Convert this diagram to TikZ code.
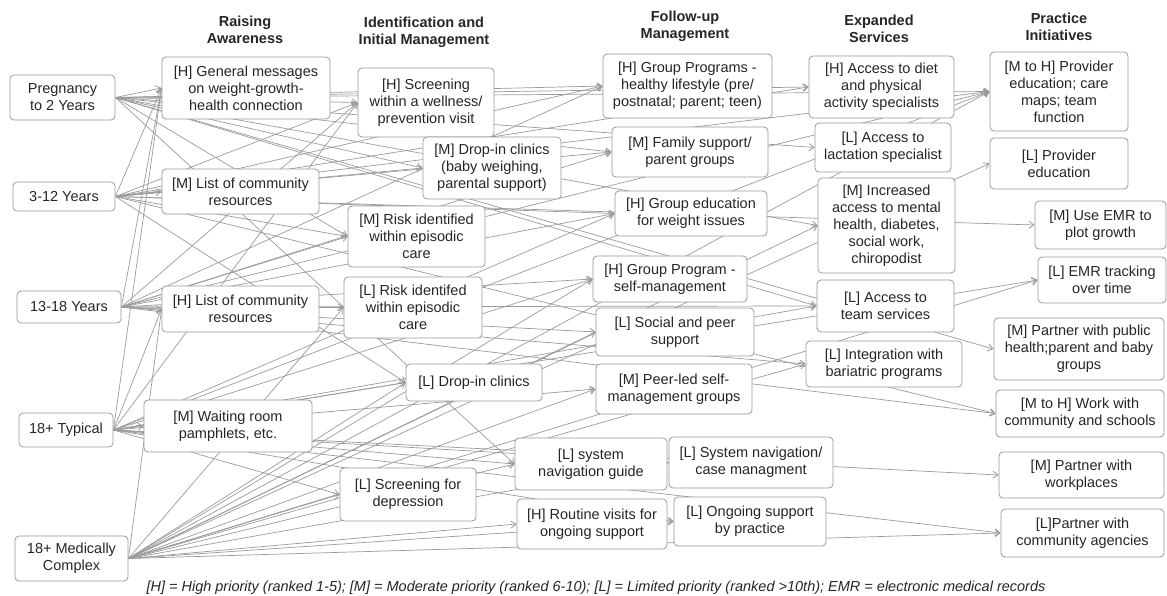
\documentclass[tikz,border=0pt]{standalone}
\usepackage{fontspec}
\setmainfont{Liberation Sans}
\usetikzlibrary{arrows.meta,backgrounds}
\definecolor{linegray}{HTML}{9A9A9A}
\definecolor{textgray}{HTML}{262626}
\tikzset{
  box/.style={rectangle, rounded corners=4pt, draw=linegray, fill=white, line width=0.8pt,
    inner sep=0pt, align=center, text=textgray, font=\fontsize{14.5}{17}\selectfont},
  head/.style={align=center, text=textgray, font=\fontsize{14.5}{17}\selectfont\bfseries, inner sep=0pt},
  edge/.style={draw=linegray, line width=0.7pt, -{Straight Barb[length=5pt,width=7pt,line width=0.8pt]}}
}
\newcommand{\bx}[6]{\node[box, minimum width={#4-#2}, minimum height={#5-#3}] (#1) at ({(#2+#4)/2},{-(#3+#5)/2}) {#6};}
\begin{document}
\begin{tikzpicture}[x=1pt,y=1pt]
\useasboundingbox (0,0) rectangle (1167,-595);
% headers
\node[head] (h1) at (245,-30) {Raising\\Awareness};
\node[head] (h2) at (424,-32) {Identification and\\Initial Management};
\node[head] (h3) at (685,-26.5) {Follow-up\\Management};
\node[head] (h4) at (879,-28.5) {Expanded\\Services};
\node[head] (h5) at (1059,-27) {Practice\\Initiatives};
% age groups
\bx{P}{10}{75}{115}{120}{Pregnancy\\to 2 Years}
\bx{A}{13}{182}{115}{211}{3-12 Years}
\bx{T}{17}{291}{121}{323}{13-18 Years}
\bx{Y}{19}{413}{113}{447}{18+ Typical}
\bx{C}{15}{536}{128}{581}{18+ Medically\\Complex}
% raising awareness
\bx{Gm}{162}{57}{330}{119}{[H] General messages\\on weight-growth-\\health connection}
\bx{ListM}{162}{169}{319}{214}{[M] List of community\\resources}
\bx{ListH}{162}{286}{319}{332}{[H] List of community\\resources}
\bx{WR}{144}{400}{312}{452}{[M] Waiting room\\pamphlets, etc.}
% identification
\bx{Scr}{358}{68}{494}{137}{[H] Screening\\within a wellness/\\prevention visit}
\bx{DropM}{423}{137}{561}{199}{[M] Drop-in clinics\\(baby weighing,\\parental support)}
\bx{RiskM}{348}{206}{485}{267}{[M] Risk identified\\within episodic\\care}
\bx{RiskL}{344}{277}{482}{338}{[L] Risk identifed\\within episodic\\care}
\bx{DropL}{406}{364}{542}{401}{[L] Drop-in clinics}
\bx{SD}{340}{468}{476}{521}{[L] Screening for\\depression}
% follow-up
\bx{GP}{603}{54}{772}{118}{[H] Group Programs -\\healthy lifestyle (pre/\\postnatal; parent; teen)}
\bx{FS}{612}{127}{768}{177}{[M] Family support/\\parent groups}
\bx{GE}{615}{191}{767}{236}{[H] Group education\\for weight issues}
\bx{GPS}{593}{256}{747}{302}{[H] Group Program -\\self-management}
\bx{SP}{596}{308}{754}{356}{[L] Social and peer\\support}
\bx{PL}{596}{364}{752}{414}{[M] Peer-led self-\\management groups}
\bx{SNG}{515}{438}{667}{490}{[L] system\\navigation guide}
\bx{RV}{517}{499}{667}{549}{[H] Routine visits for\\ongoing support}
% expanded
\bx{Diet}{809}{56}{954}{118}{[H] Access to diet\\and physical\\activity specialists}
\bx{Lac}{815}{123}{951}{172}{[L] Access to\\lactation specialist}
\bx{IncAcc}{818}{178}{955}{273}{[M] Increased\\access to mental\\health, diabetes,\\social work,\\chiropodist}
\bx{Team}{817}{280}{954}{332}{[L] Access to\\team services}
\bx{IB}{806}{341}{962}{387}{[L] Integration with\\bariatric programs}
\bx{SNC}{669}{437}{833}{488}{[L] System navigation/\\case managment}
\bx{OS}{674}{497}{826}{546}{[L] Ongoing support\\by practice}
% practice
\bx{ProvMH}{990}{52}{1128}{131}{[M to H] Provider\\education; care\\maps; team\\function}
\bx{LProv}{990}{138}{1128}{189}{[L] Provider\\education}
\bx{EMRp}{1035}{201}{1166}{249}{[M] Use EMR to\\plot growth}
\bx{EMRt}{1038}{257}{1166}{303}{[L] EMR tracking\\over time}
\bx{PPH}{994}{318}{1164}{380}{[M] Partner with public\\health;parent and baby\\groups}
\bx{WCS}{996}{390}{1164}{437}{[M to H] Work with\\community and schools}
\bx{PW}{999}{452}{1164}{498}{[M] Partner with\\workplaces}
\bx{PCA}{1001}{509}{1164}{557}{[L]Partner with\\community agencies}
% footnote
\node[inner sep=0pt, text=textgray, font=\fontsize{14.5}{17}\selectfont\itshape] (fn) at (596,-588)
  {[H] = High priority (ranked 1-5); [M] = Moderate priority (ranked 6-10); [L] = Limited priority (ranked >10th); EMR = electronic medical records};
% connectors
\begin{pgfonlayer}{background}
\foreach \t in {Gm,Scr,DropM,RiskM,SNG,GP,FS,Lac,Diet,Team,IncAcc,ProvMH,PPH}
  \draw[edge] (P.east) -- (\t.west);
\foreach \t in {Gm,ListM,Scr,DropM,RiskM,DropL,GP,FS,GE,Diet,EMRp,ProvMH,WCS}
  \draw[edge] (A.east) -- (\t.west);
\foreach \t in {Gm,ListH,Scr,RiskM,RiskL,GP,FS,GE,GPS,SP,Team,IB,ProvMH,WCS}
  \draw[edge] (T.east) -- (\t.west);
\foreach \t in {Gm,ListH,WR,Scr,DropL,GE,GPS,PL,SNG,SD,SNC,OS,Team,ProvMH,EMRt,PW,PCA}
  \draw[edge] (Y.east) -- (\t.west);
\foreach \t in {ListH,RiskL,DropL,SD,RV,SNG,SNC,OS,GPS,SP,PL,IncAcc,IB,ProvMH,LProv,EMRt,PCA}
  \draw[edge] (C.east) -- (\t.west);
\end{pgfonlayer}
\end{tikzpicture}
\end{document}
